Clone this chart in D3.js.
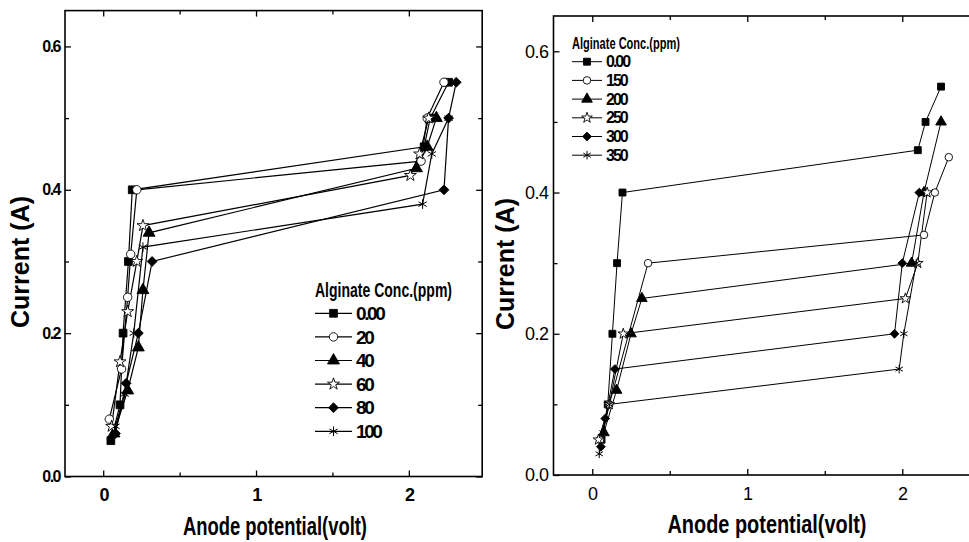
<!DOCTYPE html>
<html>
<head>
<meta charset="utf-8">
<script src="https://cdnjs.cloudflare.com/ajax/libs/d3/7.8.5/d3.min.js"></script>
<style>
  body { margin: 0; background: #fff; }
  svg { display: block; font-family: "Liberation Sans", Arial, sans-serif; }
</style>
</head>
<body>
<svg id="chart" width="969" height="542"></svg>
<script>
// left panel: alginate 0-100 ppm
var leftLabels = ["0.00", "20", "40", "60", "80", "100"];
var left000 = [[0.05,0.05],[0.11,0.10],[0.13,0.20],[0.165,0.30],[0.19,0.40],[2.10,0.46],[2.14,0.50],[2.26,0.55]];
var left020 = [[0.04,0.08],[0.12,0.15],[0.16,0.25],[0.18,0.31],[0.22,0.40],[2.08,0.44],[2.12,0.50],[2.23,0.55]];
var left040 = [[0.07,0.06],[0.16,0.12],[0.23,0.18],[0.26,0.26],[0.30,0.34],[2.05,0.43],[2.12,0.46],[2.18,0.50]];
var left060 = [[0.055,0.07],[0.11,0.16],[0.16,0.23],[0.22,0.30],[0.26,0.35],[2.01,0.42],[2.07,0.45],[2.13,0.50]];
var left080 = [[0.08,0.06],[0.15,0.13],[0.23,0.20],[0.32,0.30],[2.23,0.40],[2.26,0.50],[2.31,0.55]];
var left100 = [[0.08,0.07],[0.14,0.115],[0.20,0.20],[0.26,0.32],[2.09,0.38],[2.15,0.45],[2.26,0.50]];

// right panel: alginate 0-350 ppm
var rightLabels = ["0.00", "150", "200", "250", "300", "350"];
var right000 = [[0.06,0.05],[0.10,0.10],[0.13,0.20],[0.16,0.30],[0.195,0.40],[2.10,0.46],[2.15,0.50],[2.25,0.55]];
var right150 = [[0.05,0.05],[0.11,0.10],[0.36,0.30],[2.14,0.34],[2.21,0.40],[2.30,0.45]];
var right200 = [[0.075,0.06],[0.157,0.12],[0.25,0.20],[0.32,0.25],[2.06,0.30],[2.14,0.40],[2.25,0.50]];
var right250 = [[0.04,0.05],[0.11,0.10],[0.20,0.20],[2.02,0.25],[2.10,0.30],[2.16,0.40]];
var right300 = [[0.056,0.04],[0.084,0.08],[0.146,0.15],[1.95,0.20],[2.00,0.30],[2.11,0.40]];
var right350 = [[0.045,0.03],[0.07,0.06],[0.11,0.10],[1.98,0.15],[2.01,0.20],[2.09,0.30]];

var xMajor = [0, 1, 2];
var xMinor = [0.5, 1.5];
var yMajor = [0, 0.2, 0.4, 0.6];
var yMinor = [0.1, 0.3, 0.5];
var markers = ["square", "circle", "triangle", "star", "diamond", "asterisk"];

var svg = d3.select("#chart");

function marker(sel, type, k) {
    var t = {square: d3.symbolSquare, circle: d3.symbolCircle, triangle: d3.symbolTriangle,
             star: d3.symbolStar, diamond: d3.symbolSquare, asterisk: d3.symbolAsterisk}[type];
    var size = {square: 60, circle: 56, triangle: 62, star: 44, diamond: 48, asterisk: 64}[type] * k;
    var p = sel.append("path")
        .attr("d", d3.symbol(t, size)())
        .attr("stroke", "#000")
        .attr("stroke-width", type == "asterisk" ? 1 : 0.9)
        .attr("fill", (type == "circle" || type == "star") ? "#fff" : (type == "asterisk" ? "none" : "#000"));
    if (type == "diamond") p.attr("transform", "rotate(45)");
    return p;
}

function panel(o) {
    var x = d3.scaleLinear().domain(o.xDom).range(o.xRange);
    var y = d3.scaleLinear().domain([0, 0.65]).range(o.yRange);
    var g = svg.append("g");
    var x0 = o.xRange[0], x1 = o.xRange[1], y0 = o.yRange[0], y1 = o.yRange[1];

    // frame
    g.append("rect").attr("x", x0).attr("y", y1).attr("width", x1 - x0).attr("height", y0 - y1)
        .attr("fill", "none").attr("stroke", "#000").attr("stroke-width", 1.6);

    function ax(gen, tx, ty, vals, len, fmt, font) {
        var a = g.append("g").attr("transform", "translate(" + tx + "," + ty + ")")
            .call(gen.tickValues(vals).tickSize(-len).tickSizeOuter(0).tickPadding(o.pad).tickFormat(fmt));
        a.select(".domain").remove();
        a.selectAll("line").attr("stroke", "#000").attr("stroke-width", 1.3);
        a.selectAll("text").attr("fill", "#000").attr("font-size", font + "px")
            .attr("font-weight", o.tickWeight).attr("letter-spacing", o.tickLs)
            .attr("font-family", "Liberation Sans, Arial, sans-serif");
        return a;
    }
    var none = function() { return ""; };
    ax(d3.axisBottom(x), 0, y0, xMajor, 6, d3.format("d"), o.xFont).selectAll("text").attr("dy", "1.1em");
    ax(d3.axisBottom(x), 0, y0, xMinor, 4, none);
    ax(d3.axisTop(x), 0, y1, xMajor, 6, none);
    ax(d3.axisTop(x), 0, y1, xMinor, 4, none);
    ax(d3.axisLeft(y), x0, 0, yMajor, 6, d3.format(".1f"), o.yFont);
    ax(d3.axisLeft(y), x0, 0, yMinor, 4, none);
    ax(d3.axisRight(y), x1, 0, yMajor, 6, none);
    ax(d3.axisRight(y), x1, 0, yMinor, 4, none);

    var line = d3.line().x(function(d) { return x(d[0]); }).y(function(d) { return y(d[1]); });
    o.series.forEach(function(s) {
        g.append("path").datum(s).attr("d", line)
            .attr("fill", "none").attr("stroke", "#000").attr("stroke-width", o.lw);
    });
    o.series.forEach(function(s, i) {
        s.forEach(function(d) {
            var m = g.append("g").attr("transform", "translate(" + x(d[0]) + "," + y(d[1]) + ")");
            marker(m, markers[i], o.mk);
        });
    });

    // legend
    var L = o.legend;
    g.append("text").attr("x", L.x).attr("y", L.titleY).attr("dy", "0.35em")
        .attr("font-size", L.titleFont + "px").attr("font-weight", "bold")
        .attr("textLength", L.titleW).attr("lengthAdjust", "spacingAndGlyphs")
        .text("Alginate Conc.(ppm)");
    o.labels.forEach(function(lab, i) {
        var ry = L.rowY + i * L.step;
        g.append("line").attr("x1", L.x).attr("x2", L.x + L.lineW).attr("y1", ry).attr("y2", ry)
            .attr("stroke", "#000").attr("stroke-width", o.lw);
        var m = g.append("g").attr("transform", "translate(" + (L.x + L.lineW / 2) + "," + ry + ")");
        marker(m, markers[i], o.mk);
        g.append("text").attr("x", L.x + L.lineW + 4).attr("y", ry).attr("dy", "0.35em")
            .attr("font-size", L.font + "px").attr("font-weight", "bold")
            .attr("letter-spacing", L.ls).text(lab);
    });

    // axis titles
    g.append("text").attr("transform", "translate(" + o.yTitle[0] + "," + o.yTitle[1] + ") rotate(-90)")
        .attr("text-anchor", "middle").attr("dy", "0.35em")
        .attr("font-size", "25px").attr("font-weight", "bold").text("Current (A)");
    g.append("text").attr("x", o.xTitle[0] - o.xTitle[2] / 2).attr("y", o.xTitle[1]).attr("dy", "0.35em")
        .attr("font-size", "25px").attr("font-weight", "bold")
        .attr("textLength", o.xTitle[2]).attr("lengthAdjust", "spacingAndGlyphs")
        .text("Anode potential(volt)");
}

panel({
    xDom: [-0.25, 2.48], xRange: [65, 482.2], yRange: [476.5, 10.6],
    series: [left000, left020, left040, left060, left080, left100], labels: leftLabels,
    xFont: 18, yFont: 16, tickWeight: "bold", tickLs: "-1.5px", pad: 5, lw: 1.2, mk: 1,
    legend: {x: 315, titleY: 289.5, titleW: 137, titleFont: 20, font: 19, ls: "-2.4px", rowY: 313.3, step: 23.6, lineW: 37},
    yTitle: [20, 262], xTitle: [275, 526, 184]
});

panel({
    xDom: [-0.25, 2.5], xRange: [553.5, 979.8], yRange: [475, 16],
    series: [right000, right150, right200, right250, right300, right350], labels: rightLabels,
    xFont: 18, yFont: 18, tickWeight: "normal", tickLs: "-0.5px", pad: 5, lw: 1, mk: 0.8,
    legend: {x: 572, titleY: 43.3, titleW: 108, titleFont: 16, font: 16, ls: "-2px", rowY: 61.7, step: 18.7, lineW: 30},
    yTitle: [505, 264], xTitle: [767, 524, 199]
});
</script>
</body>
</html>
